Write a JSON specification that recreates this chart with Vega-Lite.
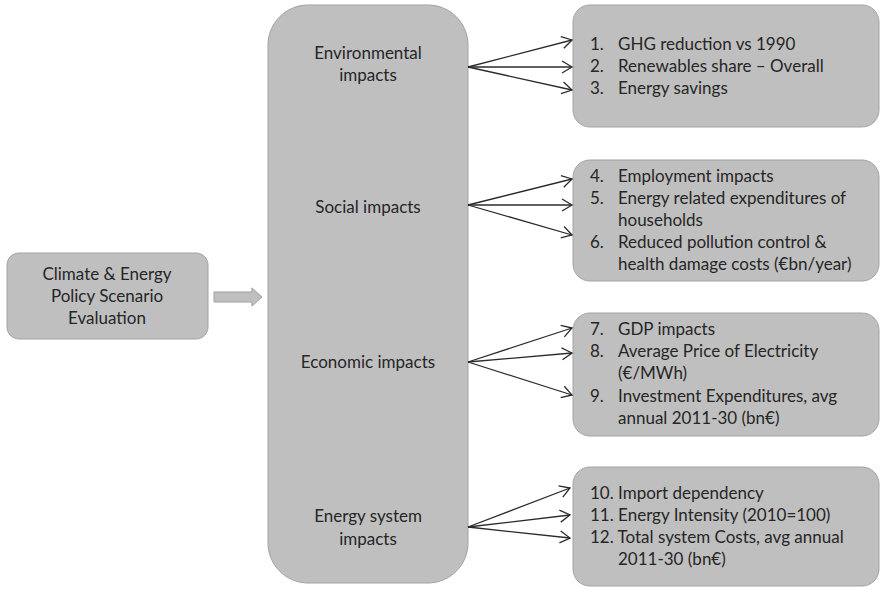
{
  "$schema": "https://vega.github.io/schema/vega-lite/v6.json",
  "width": 881,
  "height": 589,
  "autosize": {"type": "none"},
  "padding": 0,
  "background": "white",
  "config": {"view": {"stroke": null}},
  "datasets": {
    "boxes": [
      {"box": "start", "x": 7, "x2": 208, "y": 253, "y2": 339},
      {"box": "impacts", "x": 268, "x2": 468, "y": 5, "y2": 583},
      {"box": "indicators", "x": 573, "x2": 879, "y": 5, "y2": 127},
      {"box": "indicators", "x": 573, "x2": 879, "y": 160, "y2": 281},
      {"box": "indicators", "x": 573, "x2": 879, "y": 313, "y2": 436},
      {"box": "indicators", "x": 573, "x2": 879, "y": 467, "y2": 586}
    ],
    "flow": [{"x": 238, "y": 297}],
    "arrows": [
      {"group": "Environmental", "x": 468, "y": 67, "x2": 572, "y2": 40, "angle": -14.6},
      {"group": "Environmental", "x": 468, "y": 67, "x2": 572, "y2": 67, "angle": 0},
      {"group": "Environmental", "x": 468, "y": 67, "x2": 572, "y2": 90, "angle": 12.5},
      {"group": "Social", "x": 468, "y": 205, "x2": 572, "y2": 179, "angle": -14.0},
      {"group": "Social", "x": 468, "y": 205, "x2": 572, "y2": 205, "angle": 0},
      {"group": "Social", "x": 468, "y": 205, "x2": 572, "y2": 235, "angle": 16.1},
      {"group": "Economic", "x": 468, "y": 362, "x2": 572, "y2": 328, "angle": -18.1},
      {"group": "Economic", "x": 468, "y": 362, "x2": 572, "y2": 353, "angle": -4.9},
      {"group": "Economic", "x": 468, "y": 362, "x2": 572, "y2": 395, "angle": 17.6},
      {"group": "Energy system", "x": 468, "y": 527, "x2": 570, "y2": 488, "angle": -20.9},
      {"group": "Energy system", "x": 468, "y": 527, "x2": 570, "y2": 515, "angle": -6.7},
      {"group": "Energy system", "x": 468, "y": 527, "x2": 570, "y2": 538, "angle": 6.2}
    ],
    "labels": [
      {"kind": "center", "x": 107, "y": 275, "label": "Climate & Energy"},
      {"kind": "center", "x": 107, "y": 297, "label": "Policy Scenario"},
      {"kind": "center", "x": 107, "y": 319, "label": "Evaluation"},
      {"kind": "center", "x": 368, "y": 54, "label": "Environmental"},
      {"kind": "center", "x": 368, "y": 76, "label": "impacts"},
      {"kind": "center", "x": 368, "y": 208, "label": "Social impacts"},
      {"kind": "center", "x": 368, "y": 363, "label": "Economic impacts"},
      {"kind": "center", "x": 368, "y": 517, "label": "Energy system"},
      {"kind": "center", "x": 368, "y": 540, "label": "impacts"},
      {"kind": "left", "x": 590, "y": 45, "label": "1."},
      {"kind": "left", "x": 618, "y": 45, "label": "GHG reduction vs 1990"},
      {"kind": "left", "x": 590, "y": 67, "label": "2."},
      {"kind": "left", "x": 618, "y": 67, "label": "Renewables share – Overall"},
      {"kind": "left", "x": 590, "y": 89, "label": "3."},
      {"kind": "left", "x": 618, "y": 89, "label": "Energy savings"},
      {"kind": "left", "x": 590, "y": 177, "label": "4."},
      {"kind": "left", "x": 618, "y": 177, "label": "Employment impacts"},
      {"kind": "left", "x": 590, "y": 199, "label": "5."},
      {"kind": "left", "x": 618, "y": 199, "label": "Energy related expenditures of"},
      {"kind": "left", "x": 618, "y": 221, "label": "households"},
      {"kind": "left", "x": 590, "y": 243, "label": "6."},
      {"kind": "left", "x": 618, "y": 243, "label": "Reduced pollution control &"},
      {"kind": "left", "x": 618, "y": 265, "label": "health damage costs (€bn/year)"},
      {"kind": "left", "x": 590, "y": 330, "label": "7."},
      {"kind": "left", "x": 618, "y": 330, "label": "GDP impacts"},
      {"kind": "left", "x": 590, "y": 352, "label": "8."},
      {"kind": "left", "x": 618, "y": 352, "label": "Average Price of Electricity"},
      {"kind": "left", "x": 618, "y": 374, "label": "(€/MWh)"},
      {"kind": "left", "x": 590, "y": 397, "label": "9."},
      {"kind": "left", "x": 618, "y": 397, "label": "Investment Expenditures, avg"},
      {"kind": "left", "x": 618, "y": 419, "label": "annual 2011-30 (bn€)"},
      {"kind": "left", "x": 590, "y": 494, "label": "10. Import dependency"},
      {"kind": "left", "x": 590, "y": 516, "label": "11. Energy Intensity (2010=100)"},
      {"kind": "left", "x": 590, "y": 538, "label": "12. Total system Costs, avg annual"},
      {"kind": "left", "x": 618, "y": 560, "label": "2011-30 (bn€)"}
    ]
  },
  "encoding": {
    "x": {"field": "x", "type": "quantitative", "scale": {"domain": [0, 881], "nice": false, "zero": false}, "axis": null},
    "y": {"field": "y", "type": "quantitative", "scale": {"domain": [0, 589], "reverse": true, "nice": false, "zero": false}, "axis": null}
  },
  "layer": [
    {
      "data": {"name": "boxes"},
      "transform": [{"filter": "datum.box === 'start'"}],
      "mark": {"type": "rect", "cornerRadius": 12, "fill": "#bfbfbf", "stroke": "#a3a3a3", "strokeWidth": 1},
      "encoding": {"x2": {"field": "x2"}, "y2": {"field": "y2"}}
    },
    {
      "data": {"name": "boxes"},
      "transform": [{"filter": "datum.box === 'impacts'"}],
      "mark": {"type": "rect", "cornerRadius": 40, "fill": "#bfbfbf", "stroke": "#a3a3a3", "strokeWidth": 1},
      "encoding": {"x2": {"field": "x2"}, "y2": {"field": "y2"}}
    },
    {
      "data": {"name": "boxes"},
      "transform": [{"filter": "datum.box === 'indicators'"}],
      "mark": {"type": "rect", "cornerRadius": 17, "fill": "#bfbfbf", "stroke": "#a3a3a3", "strokeWidth": 1},
      "encoding": {"x2": {"field": "x2"}, "y2": {"field": "y2"}}
    },
    {
      "data": {"name": "flow"},
      "mark": {"type": "point", "shape": "M-1,-0.21L0.58,-0.21L0.58,-0.38L1,0L0.58,0.38L0.58,0.21L-1,0.21Z", "size": 2304, "filled": true, "fill": "#bfbfbf", "stroke": "#a0a0a0", "strokeWidth": 1, "opacity": 1}
    },
    {
      "data": {"name": "arrows"},
      "mark": {"type": "rule", "color": "#2b2b2b", "strokeWidth": 1.3},
      "encoding": {"x2": {"field": "x2"}, "y2": {"field": "y2"}}
    },
    {
      "data": {"name": "arrows"},
      "mark": {"type": "point", "shape": "M-1,-0.6L0,0L-1,0.6", "size": 400, "filled": false, "stroke": "#2b2b2b", "strokeWidth": 1.3, "opacity": 1},
      "encoding": {
        "x": {"field": "x2", "type": "quantitative"},
        "y": {"field": "y2", "type": "quantitative"},
        "angle": {"field": "angle", "type": "quantitative", "scale": null}
      }
    },
    {
      "data": {"name": "labels"},
      "transform": [{"filter": "datum.kind === 'center'"}],
      "mark": {"type": "text", "align": "center", "baseline": "middle", "font": "Lato", "fontSize": 17, "color": "#262626"},
      "encoding": {"text": {"field": "label"}}
    },
    {
      "data": {"name": "labels"},
      "transform": [{"filter": "datum.kind === 'left'"}],
      "mark": {"type": "text", "align": "left", "baseline": "middle", "font": "Lato", "fontSize": 17, "color": "#262626"},
      "encoding": {"text": {"field": "label"}}
    }
  ]
}
